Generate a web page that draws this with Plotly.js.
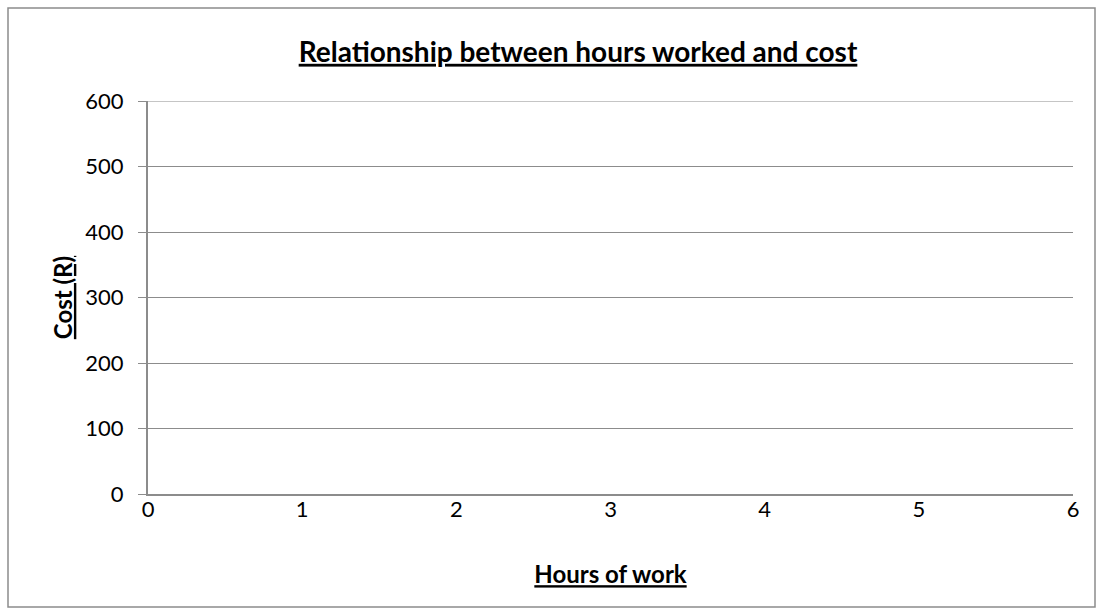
<!DOCTYPE html>
<html>
<head>
<meta charset="utf-8">
<script src="https://cdn.plot.ly/plotly-3.0.1.min.js"></script>
<style>html,body{margin:0;padding:0;background:#fff;}#chart{width:1101px;height:613px;}</style>
</head>
<body>
<div id="chart"></div>
<script>
// Data: the reference chart has no plotted points
var hours = [];
var cost = [];
var xRange = [0, 6];
var yRange = [0, 600];
var xStep = 1;
var yStep = 100;
var chartTitle = "Relationship between hours worked and cost";
var xTitle = "Hours of work";
var yTitle = "Cost (R)";

var FONT = "Lato, 'Open Sans', sans-serif";
var trace = {x: hours, y: cost, type: 'scatter', mode: 'markers', showlegend: false, hoverinfo: 'skip'};

var L = 148, R = 1073, T = 101, B = 494;
var pw = R - L, ph = B - T;
function px(x){return (x - L)/pw;}
function py(y){return (B - y)/ph;}

var layout = {
  width: 1101, height: 613,
  margin: {l: L, r: 1101 - R, t: T, b: 613 - B, pad: 0},
  paper_bgcolor: '#fff', plot_bgcolor: '#fff',
  font: {family: FONT, size: 22, color: '#000'},
  title: {text: '<b><u>' + chartTitle + '</u></b>', x: 578/1101, xref: 'container', xanchor: 'center', y: 1 - 52/613, yref: 'container', yanchor: 'middle', font: {family: FONT, size: 28, color: '#000'}},
  xaxis: {range: xRange, dtick: xStep, tick0: 0, showgrid: false, zeroline: false, showline: true, linecolor: '#8c8c8c', linewidth: 2, ticks: '', ticklabelstandoff: -5, tickfont: {size: 22}, fixedrange: true,
    title: {text: '<b><u>' + xTitle + '</u></b>', font: {size: 24}, standoff: 45}},
  yaxis: {range: yRange, dtick: yStep, tick0: 0, showgrid: true, gridcolor: '#8c8c8c', gridwidth: 1, zeroline: false, showline: true, linecolor: '#8c8c8c', linewidth: 2, ticks: 'outside', ticklen: 8, tickcolor: '#8c8c8c', tickwidth: 1, ticklabelstandoff: 10, tickfont: {size: 22}, fixedrange: true,
    title: {text: '<b><u>' + yTitle + '</u></b>', font: {size: 24}, standoff: 6}},
  shapes: [
    {type: 'rect', xref: 'paper', yref: 'paper', x0: px(8), x1: px(1095), y0: py(607), y1: py(8), line: {color: '#8c8c8c', width: 1.5}, layer: 'below'},
    {type: 'line', xref: 'paper', yref: 'y', x0: 0, x1: 1, y0: yRange[1], y1: yRange[1], line: {color: '#8c8c8c', width: 1}, layer: 'below'}
  ],
  showlegend: false
};
Plotly.newPlot('chart', [trace], layout, {displayModeBar: false, staticPlot: true});
</script>
</body>
</html>
